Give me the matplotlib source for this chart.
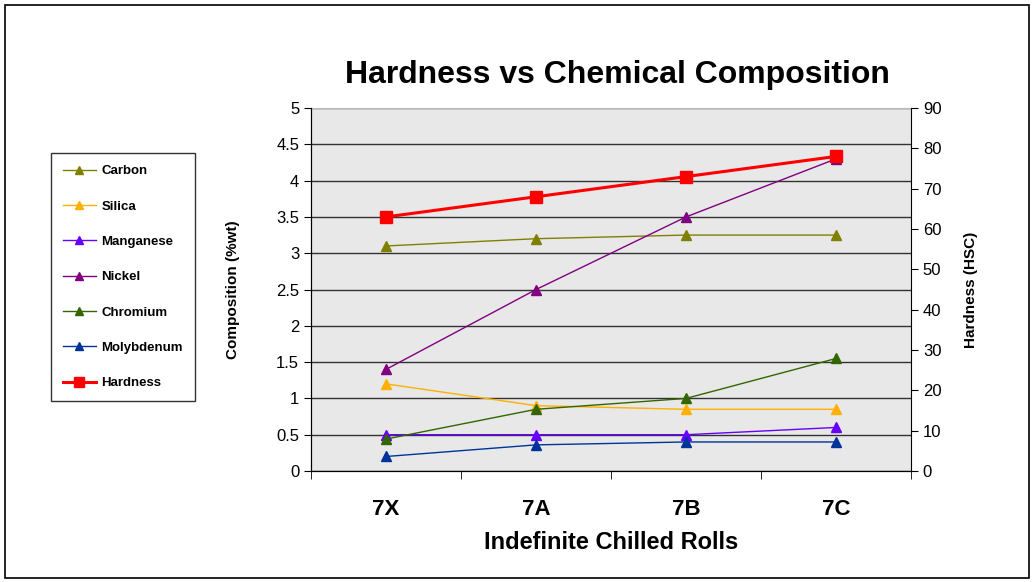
import numpy as np
import matplotlib.pyplot as plt
from matplotlib.patches import Rectangle

plt.rcParams['font.family'] = ['Liberation Sans', 'DejaVu Sans']

# categories
rolls = ["7X", "7A", "7B", "7C"]

# composition (%wt)
carbon = [3.1, 3.2, 3.25, 3.25]
silica = [1.2, 0.9, 0.85, 0.85]
manganese = [0.5, 0.5, 0.5, 0.6]
nickel = [1.4, 2.5, 3.5, 4.3]
chromium = [0.44, 0.85, 1.0, 1.55]
molybdenum = [0.2, 0.36, 0.4, 0.4]

# hardness (HSC)
hardness = [63, 68, 73, 78]

x = np.arange(len(rolls))

fig = plt.figure(figsize=(10.34, 5.82), dpi=100)
fig.patches.append(Rectangle((0.005, 0.007), 0.99, 0.985, transform=fig.transFigure,
                             fill=False, edgecolor='black', linewidth=1.2))

ax = fig.add_axes([0.3008, 0.1907, 0.5803, 0.6237])
ax.set_facecolor('#E8E8E8')

series = [
    ("Carbon", carbon, "#808000"),
    ("Silica", silica, "#FFB000"),
    ("Manganese", manganese, "#6600FF"),
    ("Nickel", nickel, "#800080"),
    ("Chromium", chromium, "#336600"),
    ("Molybdenum", molybdenum, "#003399"),
]
handles = []
for name, vals, col in series:
    h, = ax.plot(x, vals, color=col, marker='^', markersize=7, linewidth=1, label=name)
    handles.append(h)

ax.set_xlim(-0.5, 3.5)
ax.set_ylim(0, 5)
ax.set_yticks(np.arange(0, 5.01, 0.5))
ax.set_yticklabels(["0", "0.5", "1", "1.5", "2", "2.5", "3", "3.5", "4", "4.5", "5"])
ax.yaxis.grid(True, color='#333333', linewidth=1)
ax.set_axisbelow(True)
ax.set_xticks(x)
ax.set_xticklabels(rolls, fontsize=16, fontweight='bold')
ax.set_xticks(np.arange(-0.5, 3.6, 1), minor=True)
ax.tick_params(axis='x', which='major', length=0, pad=20)
ax.tick_params(axis='x', which='minor', length=6, direction='out')
ax.tick_params(axis='y', labelsize=12, direction='out', length=5)
ax.spines['top'].set_color('#BBBBBB')
ax.spines['right'].set_visible(False)
ax.set_ylabel("Composition (%wt)", fontsize=11, fontweight='bold', labelpad=26)
ax.set_xlabel("Indefinite Chilled Rolls", fontsize=17, fontweight='bold', labelpad=8)

ax2 = ax.twinx()
h, = ax2.plot(x, hardness, color='red', marker='s', markersize=9, linewidth=2.2, label="Hardness")
handles.append(h)
ax2.set_ylim(0, 90)
ax2.set_yticks(np.arange(0, 91, 10))
ax2.tick_params(axis='y', labelsize=12, direction='out', length=5)
ax2.spines['top'].set_visible(False)
ax2.set_ylabel("Hardness (HSC)", fontsize=11, fontweight='bold', labelpad=16)

fig.text(0.597, 0.871, "Hardness vs Chemical Composition", ha='center', va='center',
         fontsize=23, fontweight='bold')

leg = fig.legend(handles=handles, loc='upper left', bbox_to_anchor=(0.043, 0.748),
                 prop={'weight': 'bold', 'size': 9.5}, labelspacing=1.75,
                 frameon=True, fancybox=False, edgecolor='black', borderpad=0.9,
                 handlelength=2.5, handletextpad=0.4, markerscale=0.8)
leg.get_frame().set_linewidth(1)

plt.savefig("out.png", dpi=100)
